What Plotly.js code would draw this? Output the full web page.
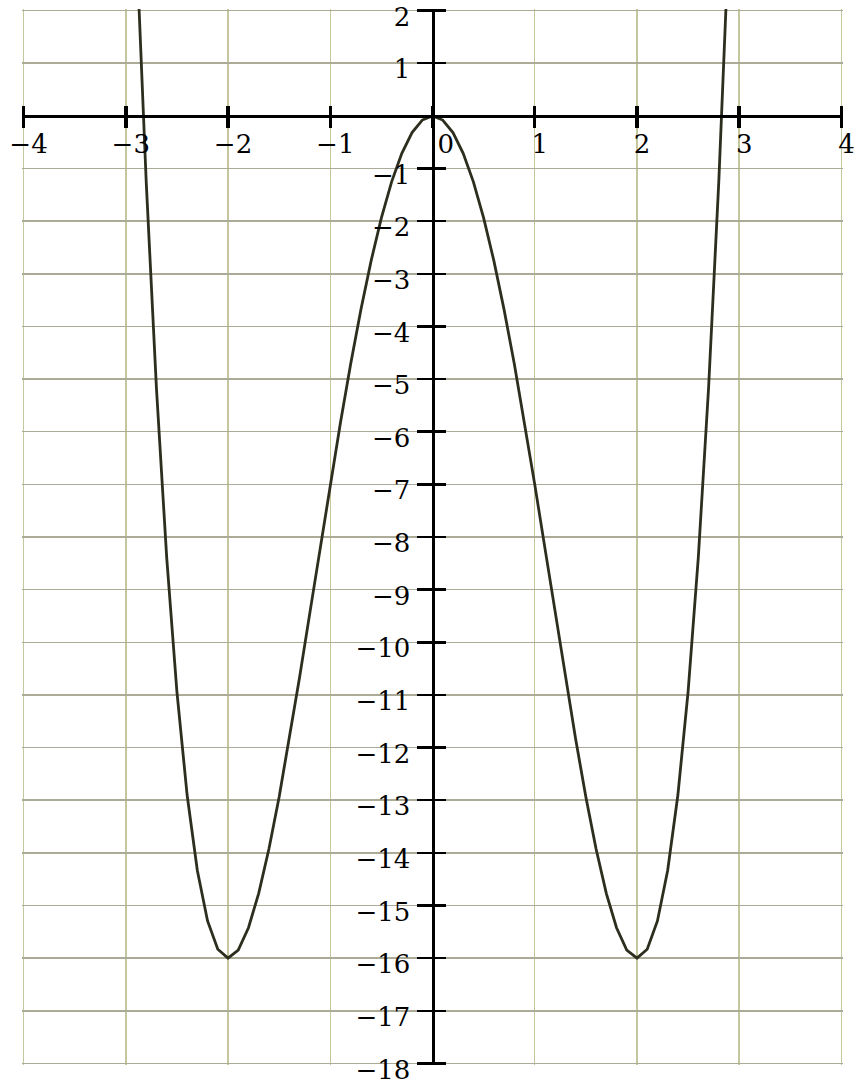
<!DOCTYPE html>
<html>
<head>
<meta charset="utf-8">
<script src="https://cdn.plot.ly/plotly-3.0.1.min.js"></script>
<style>
  html, body { margin: 0; padding: 0; background: #ffffff; }
  #plot { width: 856px; height: 1084px; }
</style>
</head>
<body>
<div id="plot"></div>
<script>
// Sampled points of the quartic curve
const curveX = [-2.9, -2.8, -2.7, -2.6, -2.5, -2.4, -2.3, -2.2, -2.1, -2.0,
                -1.9, -1.8, -1.7, -1.6, -1.5, -1.4, -1.3, -1.2, -1.1, -1.0,
                -0.9, -0.8, -0.7, -0.6, -0.5, -0.4, -0.3, -0.2, -0.1, 0.0,
                0.1, 0.2, 0.3, 0.4, 0.5, 0.6, 0.7, 0.8, 0.9, 1.0,
                1.1, 1.2, 1.3, 1.4, 1.5, 1.6, 1.7, 1.8, 1.9, 2.0,
                2.1, 2.2, 2.3, 2.4, 2.5, 2.6, 2.7, 2.8, 2.9];
const curveY = [3.448, -1.254, -5.176, -8.382, -10.938, -12.902, -14.336, -15.294, -15.832, -16.0,
                -15.848, -15.422, -14.768, -13.926, -12.938, -11.838, -10.664, -9.446, -8.216, -7.0,
                -5.824, -4.710, -3.680, -2.750, -1.938, -1.254, -0.712, -0.318, -0.080, 0.0,
                -0.080, -0.318, -0.712, -1.254, -1.938, -2.750, -3.680, -4.710, -5.824, -7.0,
                -8.216, -9.446, -10.664, -11.838, -12.938, -13.926, -14.768, -15.422, -15.848, -16.0,
                -15.832, -15.294, -14.336, -12.902, -10.938, -8.382, -5.176, -1.254, 3.448];

// Tick positions and labels
const xTickVals = [-4, -3, -2, -1, 0, 1, 2, 3, 4];
const xTickText = ['\u22124', '\u22123', '\u22122', '\u22121', '\u00a0\u00a00', '1', '2', '3', '4'];
const yTickVals = [2, 1, 0, -1, -2, -3, -4, -5, -6, -7, -8, -9, -10, -11, -12, -13, -14, -15, -16, -17, -18];
const yTickText = ['2', '1', '', '\u22121', '\u22122', '\u22123', '\u22124', '\u22125', '\u22126', '\u22127',
                   '\u22128', '\u22129', '\u221210', '\u221211', '\u221212', '\u221213', '\u221214',
                   '\u221215', '\u221216', '\u221217', '\u221218'];

// a little padding keeps the border grid lines (at the edge values) drawn
const xRange = [-4.015, 4.015];
const yRange = [-18.03, 2.03];

const labelFont = { family: 'DejaVu Serif', size: 26, color: '#000000' };

const traces = [
  {
    x: curveX, y: curveY, type: 'scatter', mode: 'lines',
    line: { color: '#2e2e1e', width: 2.8 },
    hoverinfo: 'skip'
  },
  // carries the second set of tick marks that cross each axis
  { x: [], y: [], type: 'scatter', mode: 'lines', xaxis: 'x2', yaxis: 'y2', hoverinfo: 'skip' }
];

// axes cross at the origin
const xAxisPos = (0 - yRange[0]) / (yRange[1] - yRange[0]);
const yAxisPos = (0 - xRange[0]) / (xRange[1] - xRange[0]);

const layout = {
  width: 856, height: 1084,
  margin: { l: 22, r: 13, t: 9, b: 19, pad: 0 },
  paper_bgcolor: '#ffffff', plot_bgcolor: '#ffffff',
  showlegend: false,
  xaxis: {
    range: xRange, tickmode: 'array', tickvals: xTickVals, ticktext: xTickText,
    anchor: 'free', position: xAxisPos,
    showline: true, linecolor: '#000000', linewidth: 3.5,
    ticks: 'outside', ticklen: 10, tickwidth: 3.5, tickcolor: '#000000',
    showgrid: true, gridcolor: '#c4c79c', gridwidth: 1.5,
    zeroline: false, tickfont: labelFont,
    ticklabelshift: 5, ticklabelstandoff: -7, ticklabeloverflow: 'allow',
    fixedrange: true
  },
  yaxis: {
    range: yRange, tickmode: 'array', tickvals: yTickVals, ticktext: yTickText,
    anchor: 'free', position: yAxisPos,
    showline: true, linecolor: '#000000', linewidth: 3,
    ticks: 'outside', ticklen: 15, tickwidth: 2.5, tickcolor: '#000000',
    showgrid: true, gridcolor: '#abab98', gridwidth: 1.5,
    zeroline: false, tickfont: labelFont,
    ticklabelshift: 6, ticklabelstandoff: 1, ticklabeloverflow: 'allow',
    fixedrange: true
  },
  xaxis2: {
    range: xRange, overlaying: 'x', tickmode: 'array', tickvals: xTickVals,
    anchor: 'free', position: xAxisPos,
    showline: false, showgrid: false, zeroline: false, showticklabels: false,
    ticks: 'inside', ticklen: 10, tickwidth: 3.5, tickcolor: '#000000',
    fixedrange: true
  },
  yaxis2: {
    range: yRange, overlaying: 'y', tickmode: 'array', tickvals: yTickVals,
    anchor: 'free', position: yAxisPos,
    showline: false, showgrid: false, zeroline: false, showticklabels: false,
    ticks: 'inside', ticklen: 12, tickwidth: 2.5, tickcolor: '#000000',
    fixedrange: true
  }
};

Plotly.newPlot('plot', traces, layout, { displayModeBar: false, staticPlot: true });
</script>
</body>
</html>
